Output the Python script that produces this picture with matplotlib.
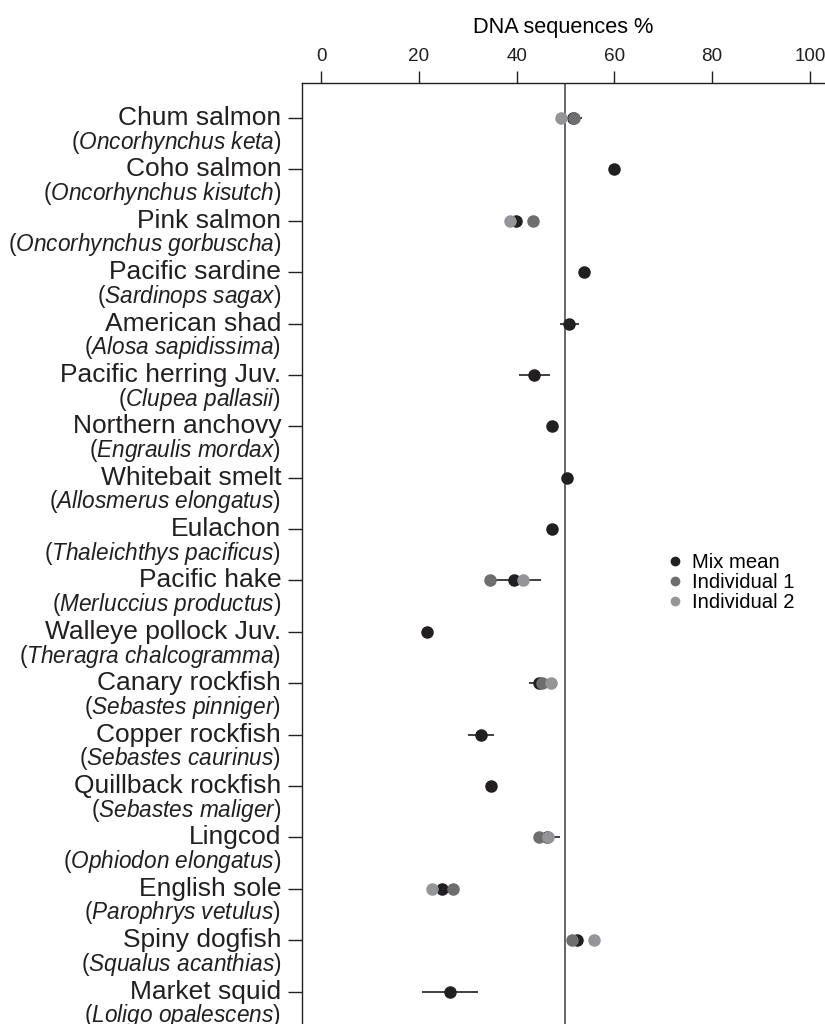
import matplotlib
matplotlib.use('Agg')
import matplotlib.pyplot as plt
from matplotlib.lines import Line2D
import numpy as np

plt.rcParams['font.family'] = ['Liberation Sans', 'DejaVu Sans']
plt.rcParams['mathtext.fontset'] = 'custom'
plt.rcParams['mathtext.rm'] = 'Liberation Sans'
plt.rcParams['mathtext.it'] = 'Liberation Sans:italic'

common_names = ['Chum salmon', 'Coho salmon', 'Pink salmon', 'Pacific sardine',
                'American shad', 'Pacific herring Juv.', 'Northern anchovy',
                'Whitebait smelt', 'Eulachon', 'Pacific hake', 'Walleye pollock Juv.',
                'Canary rockfish', 'Copper rockfish', 'Quillback rockfish', 'Lingcod',
                'English sole', 'Spiny dogfish', 'Market squid']
latin_names = ['Oncorhynchus keta', 'Oncorhynchus kisutch', 'Oncorhynchus gorbuscha',
               'Sardinops sagax', 'Alosa sapidissima', 'Clupea pallasii',
               'Engraulis mordax', 'Allosmerus elongatus', 'Thaleichthys pacificus',
               'Merluccius productus', 'Theragra chalcogramma', 'Sebastes pinniger',
               'Sebastes caurinus', 'Sebastes maliger', 'Ophiodon elongatus',
               'Parophrys vetulus', 'Squalus acanthias', 'Loligo opalescens']

nan = np.nan
mix_mean = [51.5, 59.9, 39.8, 53.7, 50.8, 43.6, 47.2, 50.4, 47.2, 39.5, 21.6,
            44.6, 32.7, 34.7, 46.3, 24.7, 52.4, 26.4]
mix_err = [1.8, 0, 1.2, 0, 2.0, 3.2, 0, 0, 0.5, 5.4, 0, 2.1, 2.7, 0, 2.6, 0, 0, 5.7]
indiv_1 = [51.8, nan, 43.4, nan, nan, nan, nan, nan, nan, 34.6, nan,
           45.1, nan, nan, 44.6, 26.9, 51.3, nan]
indiv_2 = [49.1, nan, 38.6, nan, nan, nan, nan, nan, nan, 41.4, nan,
           47.0, nan, nan, 46.5, 22.6, 55.8, nan]

c_mix = '#231f20'
c_ind1 = '#6d6e70'
c_ind2 = '#939598'

fig = plt.figure(figsize=(8.25, 10.24), dpi=100)
ax = fig.add_axes([302 / 825, 0, 1 - 302 / 825, 1 - 83 / 1024])

rows = np.arange(len(common_names))

ax.axvline(50, color='#4d4d4f', lw=1.2, zorder=1)
ax.errorbar(mix_mean, rows, xerr=mix_err, fmt='o', color=c_mix, ms=8,
            elinewidth=1.2, capsize=0, zorder=3)
ax.plot(indiv_1, rows, 'o', color=c_ind1, ms=8, zorder=4)
ax.plot(indiv_2, rows, 'o', color=c_ind2, ms=8, zorder=5)

ax.set_xlim(-3.9, 103.1)
ax.set_ylim(17.63, -0.68)
ax.xaxis.tick_top()
ax.xaxis.set_label_position('top')
ax.set_xticks([0, 20, 40, 60, 80, 100])
ax.set_xlabel('DNA sequences %', fontsize=15.7, labelpad=11)
ax.tick_params(axis='x', length=9, width=1, colors=c_mix, labelsize=13.6, pad=4)

ax.set_yticks(rows)
ax.set_yticklabels([])
ax.tick_params(axis='y', length=10, width=1, colors=c_mix)

for s in ['right', 'bottom']:
    ax.spines[s].set_visible(False)
for s in ['left', 'top']:
    ax.spines[s].set_color(c_mix)
    ax.spines[s].set_linewidth(1)

# two-line species labels: common name, then latin name in italics
for i in rows:
    ax.annotate(common_names[i], xy=(0, i), xycoords=('axes fraction', 'data'),
                xytext=(-15, 0), textcoords='offset points', ha='right', va='center',
                fontsize=19, color=c_mix, annotation_clip=False)
    latin = latin_names[i].replace(' ', r'\ ')
    ax.annotate('($\\mathit{' + latin + '}$)', xy=(0, i + 0.47),
                xycoords=('axes fraction', 'data'),
                xytext=(-15, 0), textcoords='offset points', ha='right', va='center',
                fontsize=16.3, color=c_mix, annotation_clip=False)

handles = [Line2D([], [], ls='none', marker='o', ms=6, color=c) for c in (c_mix, c_ind1, c_ind2)]
ax.legend(handles, ['Mix mean', 'Individual 1', 'Individual 2'], frameon=False,
          loc='upper left', bbox_to_anchor=(659 / 825, 1 - 543 / 1024),
          bbox_transform=fig.transFigure, fontsize=14.6, handlelength=0.6,
          handletextpad=0.55, labelspacing=0.05, borderpad=0)

fig.savefig('out.png', dpi=100)
